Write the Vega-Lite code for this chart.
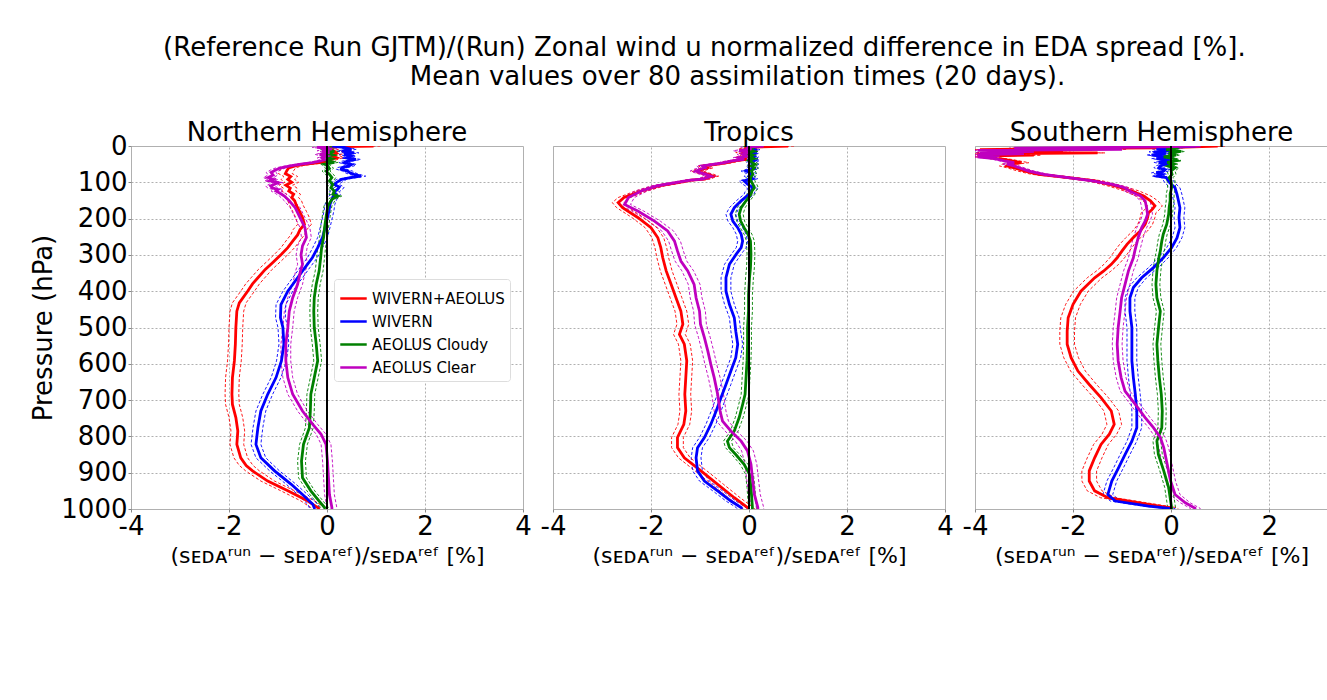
{
"$schema": "https://vega.github.io/schema/vega-lite/v6.json",
"padding": {"left": 30, "top": 34, "right": 0, "bottom": 0},
"background": "white",
"title": {"text": ["(Reference Run GJTM)/(Run) Zonal wind u normalized difference in EDA spread [%].", "\u200b\u00a0\u00a0\u00a0\u00a0\u00a0\u00a0\u00a0\u00a0Mean values over 80 assimilation times (20 days)."], "fontSize": 26, "font": "DejaVu Sans", "fontWeight": "normal", "lineHeight": 29, "anchor": "middle", "offset": 30, "dx": 25, "color": "black"},
"config": {
  "font": "DejaVu Sans",
  "view": {"stroke": "#b0b0b0", "strokeWidth": 1},
  "title": {"font": "DejaVu Sans", "fontSize": 26, "fontWeight": "normal", "offset": -1, "color": "black"},
  "axis": {"labelFont": "DejaVu Sans", "titleFont": "DejaVu Sans", "labelFontSize": 26, "titleFontSize": 26, "titleFontWeight": "normal", "labelColor": "black", "titleColor": "black", "domain": false, "tickColor": "#888888", "tickSize": 3, "labelPadding": 1, "labelFlush": false, "labelOverlap": false, "gridColor": "#b0b0b0", "gridDash": [2, 2], "gridWidth": 1}
},
"data": {"values": [
{"r":"NH","s":"WIVERN+AEOLUS","p":0,"v":0.95,"e":0.14},{"r":"NH","s":"WIVERN+AEOLUS","p":2,"v":0.1,"e":0.14},{"r":"NH","s":"WIVERN+AEOLUS","p":8,"v":0.05,"e":0.14},{"r":"NH","s":"WIVERN+AEOLUS","p":14,"v":0.15,"e":0.14},{"r":"NH","s":"WIVERN+AEOLUS","p":20,"v":0.2,"e":0.14},{"r":"NH","s":"WIVERN+AEOLUS","p":26,"v":0.1,"e":0.14},{"r":"NH","s":"WIVERN+AEOLUS","p":32,"v":0.2,"e":0.14},{"r":"NH","s":"WIVERN+AEOLUS","p":38,"v":0.05,"e":0.14},{"r":"NH","s":"WIVERN+AEOLUS","p":44,"v":0.0,"e":0.14},{"r":"NH","s":"WIVERN+AEOLUS","p":48,"v":-0.3,"e":0.14},{"r":"NH","s":"WIVERN+AEOLUS","p":53,"v":-0.6,"e":0.14},{"r":"NH","s":"WIVERN+AEOLUS","p":60,"v":-0.78,"e":0.14},{"r":"NH","s":"WIVERN+AEOLUS","p":68,"v":-0.82,"e":0.14},{"r":"NH","s":"WIVERN+AEOLUS","p":76,"v":-0.85,"e":0.14},{"r":"NH","s":"WIVERN+AEOLUS","p":84,"v":-0.74,"e":0.14},{"r":"NH","s":"WIVERN+AEOLUS","p":92,"v":-0.8,"e":0.14},{"r":"NH","s":"WIVERN+AEOLUS","p":100,"v":-0.72,"e":0.14},{"r":"NH","s":"WIVERN+AEOLUS","p":108,"v":-0.84,"e":0.14},{"r":"NH","s":"WIVERN+AEOLUS","p":116,"v":-0.75,"e":0.14},{"r":"NH","s":"WIVERN+AEOLUS","p":124,"v":-0.78,"e":0.14},{"r":"NH","s":"WIVERN+AEOLUS","p":133,"v":-0.68,"e":0.14},{"r":"NH","s":"WIVERN+AEOLUS","p":142,"v":-0.72,"e":0.14},{"r":"NH","s":"WIVERN+AEOLUS","p":151,"v":-0.66,"e":0.14},{"r":"NH","s":"WIVERN+AEOLUS","p":165,"v":-0.62,"e":0.14},{"r":"NH","s":"WIVERN+AEOLUS","p":180,"v":-0.56,"e":0.14},{"r":"NH","s":"WIVERN+AEOLUS","p":197,"v":-0.5,"e":0.14},{"r":"NH","s":"WIVERN+AEOLUS","p":216,"v":-0.46,"e":0.14},{"r":"NH","s":"WIVERN+AEOLUS","p":230,"v":-0.55,"e":0.14},{"r":"NH","s":"WIVERN+AEOLUS","p":245,"v":-0.6,"e":0.14},{"r":"NH","s":"WIVERN+AEOLUS","p":262,"v":-0.7,"e":0.14},{"r":"NH","s":"WIVERN+AEOLUS","p":280,"v":-0.8,"e":0.14},{"r":"NH","s":"WIVERN+AEOLUS","p":298,"v":-0.93,"e":0.14},{"r":"NH","s":"WIVERN+AEOLUS","p":320,"v":-1.1,"e":0.14},{"r":"NH","s":"WIVERN+AEOLUS","p":340,"v":-1.26,"e":0.14},{"r":"NH","s":"WIVERN+AEOLUS","p":363,"v":-1.41,"e":0.14},{"r":"NH","s":"WIVERN+AEOLUS","p":380,"v":-1.52,"e":0.14},{"r":"NH","s":"WIVERN+AEOLUS","p":400,"v":-1.62,"e":0.14},{"r":"NH","s":"WIVERN+AEOLUS","p":432,"v":-1.79,"e":0.14},{"r":"NH","s":"WIVERN+AEOLUS","p":455,"v":-1.84,"e":0.14},{"r":"NH","s":"WIVERN+AEOLUS","p":500,"v":-1.86,"e":0.14},{"r":"NH","s":"WIVERN+AEOLUS","p":546,"v":-1.87,"e":0.14},{"r":"NH","s":"WIVERN+AEOLUS","p":592,"v":-1.89,"e":0.14},{"r":"NH","s":"WIVERN+AEOLUS","p":638,"v":-1.93,"e":0.14},{"r":"NH","s":"WIVERN+AEOLUS","p":684,"v":-1.94,"e":0.14},{"r":"NH","s":"WIVERN+AEOLUS","p":712,"v":-1.93,"e":0.14},{"r":"NH","s":"WIVERN+AEOLUS","p":748,"v":-1.86,"e":0.14},{"r":"NH","s":"WIVERN+AEOLUS","p":785,"v":-1.82,"e":0.14},{"r":"NH","s":"WIVERN+AEOLUS","p":822,"v":-1.84,"e":0.14},{"r":"NH","s":"WIVERN+AEOLUS","p":859,"v":-1.76,"e":0.14},{"r":"NH","s":"WIVERN+AEOLUS","p":880,"v":-1.65,"e":0.14},{"r":"NH","s":"WIVERN+AEOLUS","p":895,"v":-1.52,"e":0.14},{"r":"NH","s":"WIVERN+AEOLUS","p":923,"v":-1.21,"e":0.14},{"r":"NH","s":"WIVERN+AEOLUS","p":950,"v":-0.8,"e":0.14},{"r":"NH","s":"WIVERN+AEOLUS","p":978,"v":-0.39,"e":0.14},{"r":"NH","s":"WIVERN+AEOLUS","p":996,"v":-0.19,"e":0.14},{"r":"NH","s":"WIVERN+AEOLUS","p":1000,"v":-0.15,"e":0.14},
{"r":"NH","s":"WIVERN","p":0,"v":0.1,"e":0.1},{"r":"NH","s":"WIVERN","p":4,"v":0.35,"e":0.1},{"r":"NH","s":"WIVERN","p":9,"v":0.5,"e":0.1},{"r":"NH","s":"WIVERN","p":14,"v":0.3,"e":0.1},{"r":"NH","s":"WIVERN","p":19,"v":0.55,"e":0.1},{"r":"NH","s":"WIVERN","p":23,"v":0.35,"e":0.1},{"r":"NH","s":"WIVERN","p":28,"v":0.49,"e":0.1},{"r":"NH","s":"WIVERN","p":33,"v":0.4,"e":0.1},{"r":"NH","s":"WIVERN","p":37,"v":0.59,"e":0.1},{"r":"NH","s":"WIVERN","p":42,"v":0.4,"e":0.1},{"r":"NH","s":"WIVERN","p":46,"v":0.35,"e":0.1},{"r":"NH","s":"WIVERN","p":51,"v":0.5,"e":0.1},{"r":"NH","s":"WIVERN","p":55,"v":0.45,"e":0.1},{"r":"NH","s":"WIVERN","p":60,"v":0.3,"e":0.1},{"r":"NH","s":"WIVERN","p":64,"v":0.29,"e":0.1},{"r":"NH","s":"WIVERN","p":69,"v":0.42,"e":0.1},{"r":"NH","s":"WIVERN","p":73,"v":0.46,"e":0.1},{"r":"NH","s":"WIVERN","p":78,"v":0.55,"e":0.1},{"r":"NH","s":"WIVERN","p":83,"v":0.69,"e":0.1},{"r":"NH","s":"WIVERN","p":88,"v":0.45,"e":0.1},{"r":"NH","s":"WIVERN","p":92,"v":0.3,"e":0.1},{"r":"NH","s":"WIVERN","p":100,"v":0.2,"e":0.1},{"r":"NH","s":"WIVERN","p":106,"v":0.15,"e":0.1},{"r":"NH","s":"WIVERN","p":113,"v":0.25,"e":0.1},{"r":"NH","s":"WIVERN","p":119,"v":0.22,"e":0.1},{"r":"NH","s":"WIVERN","p":126,"v":0.15,"e":0.1},{"r":"NH","s":"WIVERN","p":133,"v":0.18,"e":0.1},{"r":"NH","s":"WIVERN","p":140,"v":0.12,"e":0.1},{"r":"NH","s":"WIVERN","p":147,"v":0.1,"e":0.1},{"r":"NH","s":"WIVERN","p":161,"v":0.06,"e":0.1},{"r":"NH","s":"WIVERN","p":179,"v":0.04,"e":0.1},{"r":"NH","s":"WIVERN","p":197,"v":0.01,"e":0.1},{"r":"NH","s":"WIVERN","p":225,"v":-0.04,"e":0.1},{"r":"NH","s":"WIVERN","p":252,"v":-0.09,"e":0.1},{"r":"NH","s":"WIVERN","p":280,"v":-0.19,"e":0.1},{"r":"NH","s":"WIVERN","p":308,"v":-0.3,"e":0.1},{"r":"NH","s":"WIVERN","p":335,"v":-0.45,"e":0.1},{"r":"NH","s":"WIVERN","p":363,"v":-0.6,"e":0.1},{"r":"NH","s":"WIVERN","p":400,"v":-0.8,"e":0.1},{"r":"NH","s":"WIVERN","p":437,"v":-0.94,"e":0.1},{"r":"NH","s":"WIVERN","p":473,"v":-0.95,"e":0.1},{"r":"NH","s":"WIVERN","p":500,"v":-0.9,"e":0.1},{"r":"NH","s":"WIVERN","p":546,"v":-0.88,"e":0.1},{"r":"NH","s":"WIVERN","p":592,"v":-0.93,"e":0.1},{"r":"NH","s":"WIVERN","p":638,"v":-1.04,"e":0.1},{"r":"NH","s":"WIVERN","p":684,"v":-1.21,"e":0.1},{"r":"NH","s":"WIVERN","p":730,"v":-1.35,"e":0.1},{"r":"NH","s":"WIVERN","p":776,"v":-1.41,"e":0.1},{"r":"NH","s":"WIVERN","p":822,"v":-1.45,"e":0.1},{"r":"NH","s":"WIVERN","p":859,"v":-1.35,"e":0.1},{"r":"NH","s":"WIVERN","p":895,"v":-1.07,"e":0.1},{"r":"NH","s":"WIVERN","p":932,"v":-0.73,"e":0.1},{"r":"NH","s":"WIVERN","p":960,"v":-0.5,"e":0.1},{"r":"NH","s":"WIVERN","p":987,"v":-0.29,"e":0.1},{"r":"NH","s":"WIVERN","p":1000,"v":-0.25,"e":0.1},
{"r":"NH","s":"AEOLUS Cloudy","p":0,"v":-0.1,"e":0.08},{"r":"NH","s":"AEOLUS Cloudy","p":5,"v":0.1,"e":0.08},{"r":"NH","s":"AEOLUS Cloudy","p":10,"v":-0.05,"e":0.08},{"r":"NH","s":"AEOLUS Cloudy","p":15,"v":0.15,"e":0.08},{"r":"NH","s":"AEOLUS Cloudy","p":20,"v":0.0,"e":0.08},{"r":"NH","s":"AEOLUS Cloudy","p":25,"v":0.12,"e":0.08},{"r":"NH","s":"AEOLUS Cloudy","p":30,"v":-0.05,"e":0.08},{"r":"NH","s":"AEOLUS Cloudy","p":35,"v":0.1,"e":0.08},{"r":"NH","s":"AEOLUS Cloudy","p":40,"v":0.0,"e":0.08},{"r":"NH","s":"AEOLUS Cloudy","p":45,"v":0.15,"e":0.08},{"r":"NH","s":"AEOLUS Cloudy","p":50,"v":-0.05,"e":0.08},{"r":"NH","s":"AEOLUS Cloudy","p":55,"v":0.02,"e":0.08},{"r":"NH","s":"AEOLUS Cloudy","p":62,"v":0.05,"e":0.08},{"r":"NH","s":"AEOLUS Cloudy","p":69,"v":-0.02,"e":0.08},{"r":"NH","s":"AEOLUS Cloudy","p":78,"v":0.05,"e":0.08},{"r":"NH","s":"AEOLUS Cloudy","p":87,"v":0.1,"e":0.08},{"r":"NH","s":"AEOLUS Cloudy","p":96,"v":0.05,"e":0.08},{"r":"NH","s":"AEOLUS Cloudy","p":106,"v":0.12,"e":0.08},{"r":"NH","s":"AEOLUS Cloudy","p":115,"v":0.08,"e":0.08},{"r":"NH","s":"AEOLUS Cloudy","p":124,"v":0.15,"e":0.08},{"r":"NH","s":"AEOLUS Cloudy","p":133,"v":0.12,"e":0.08},{"r":"NH","s":"AEOLUS Cloudy","p":138,"v":0.22,"e":0.08},{"r":"NH","s":"AEOLUS Cloudy","p":145,"v":0.12,"e":0.08},{"r":"NH","s":"AEOLUS Cloudy","p":151,"v":0.08,"e":0.08},{"r":"NH","s":"AEOLUS Cloudy","p":165,"v":0.02,"e":0.08},{"r":"NH","s":"AEOLUS Cloudy","p":180,"v":0.0,"e":0.08},{"r":"NH","s":"AEOLUS Cloudy","p":197,"v":-0.02,"e":0.08},{"r":"NH","s":"AEOLUS Cloudy","p":225,"v":-0.05,"e":0.08},{"r":"NH","s":"AEOLUS Cloudy","p":252,"v":-0.07,"e":0.08},{"r":"NH","s":"AEOLUS Cloudy","p":280,"v":-0.11,"e":0.08},{"r":"NH","s":"AEOLUS Cloudy","p":308,"v":-0.13,"e":0.08},{"r":"NH","s":"AEOLUS Cloudy","p":344,"v":-0.16,"e":0.08},{"r":"NH","s":"AEOLUS Cloudy","p":381,"v":-0.22,"e":0.08},{"r":"NH","s":"AEOLUS Cloudy","p":418,"v":-0.26,"e":0.08},{"r":"NH","s":"AEOLUS Cloudy","p":455,"v":-0.27,"e":0.08},{"r":"NH","s":"AEOLUS Cloudy","p":500,"v":-0.26,"e":0.08},{"r":"NH","s":"AEOLUS Cloudy","p":546,"v":-0.22,"e":0.08},{"r":"NH","s":"AEOLUS Cloudy","p":592,"v":-0.19,"e":0.08},{"r":"NH","s":"AEOLUS Cloudy","p":638,"v":-0.26,"e":0.08},{"r":"NH","s":"AEOLUS Cloudy","p":684,"v":-0.33,"e":0.08},{"r":"NH","s":"AEOLUS Cloudy","p":730,"v":-0.34,"e":0.08},{"r":"NH","s":"AEOLUS Cloudy","p":776,"v":-0.36,"e":0.08},{"r":"NH","s":"AEOLUS Cloudy","p":822,"v":-0.48,"e":0.08},{"r":"NH","s":"AEOLUS Cloudy","p":868,"v":-0.52,"e":0.08},{"r":"NH","s":"AEOLUS Cloudy","p":914,"v":-0.5,"e":0.08},{"r":"NH","s":"AEOLUS Cloudy","p":950,"v":-0.33,"e":0.08},{"r":"NH","s":"AEOLUS Cloudy","p":978,"v":-0.16,"e":0.08},{"r":"NH","s":"AEOLUS Cloudy","p":996,"v":-0.05,"e":0.08},{"r":"NH","s":"AEOLUS Cloudy","p":1000,"v":-0.04,"e":0.08},
{"r":"NH","s":"AEOLUS Clear","p":0,"v":0.05,"e":0.1},{"r":"NH","s":"AEOLUS Clear","p":4,"v":-0.2,"e":0.1},{"r":"NH","s":"AEOLUS Clear","p":8,"v":0.1,"e":0.1},{"r":"NH","s":"AEOLUS Clear","p":13,"v":-0.1,"e":0.1},{"r":"NH","s":"AEOLUS Clear","p":18,"v":0.05,"e":0.1},{"r":"NH","s":"AEOLUS Clear","p":23,"v":-0.15,"e":0.1},{"r":"NH","s":"AEOLUS Clear","p":28,"v":0.0,"e":0.1},{"r":"NH","s":"AEOLUS Clear","p":33,"v":-0.1,"e":0.1},{"r":"NH","s":"AEOLUS Clear","p":38,"v":-0.05,"e":0.1},{"r":"NH","s":"AEOLUS Clear","p":42,"v":-0.15,"e":0.1},{"r":"NH","s":"AEOLUS Clear","p":46,"v":-0.3,"e":0.1},{"r":"NH","s":"AEOLUS Clear","p":50,"v":-0.53,"e":0.1},{"r":"NH","s":"AEOLUS Clear","p":55,"v":-0.75,"e":0.1},{"r":"NH","s":"AEOLUS Clear","p":60,"v":-0.94,"e":0.1},{"r":"NH","s":"AEOLUS Clear","p":66,"v":-1.05,"e":0.1},{"r":"NH","s":"AEOLUS Clear","p":73,"v":-1.14,"e":0.1},{"r":"NH","s":"AEOLUS Clear","p":80,"v":-1.1,"e":0.1},{"r":"NH","s":"AEOLUS Clear","p":87,"v":-1.2,"e":0.1},{"r":"NH","s":"AEOLUS Clear","p":92,"v":-1.1,"e":0.1},{"r":"NH","s":"AEOLUS Clear","p":96,"v":-1.17,"e":0.1},{"r":"NH","s":"AEOLUS Clear","p":101,"v":-1.0,"e":0.1},{"r":"NH","s":"AEOLUS Clear","p":105,"v":-1.07,"e":0.1},{"r":"NH","s":"AEOLUS Clear","p":110,"v":-1.15,"e":0.1},{"r":"NH","s":"AEOLUS Clear","p":115,"v":-1.12,"e":0.1},{"r":"NH","s":"AEOLUS Clear","p":120,"v":-1.0,"e":0.1},{"r":"NH","s":"AEOLUS Clear","p":124,"v":-1.04,"e":0.1},{"r":"NH","s":"AEOLUS Clear","p":131,"v":-0.95,"e":0.1},{"r":"NH","s":"AEOLUS Clear","p":138,"v":-0.87,"e":0.1},{"r":"NH","s":"AEOLUS Clear","p":151,"v":-0.77,"e":0.1},{"r":"NH","s":"AEOLUS Clear","p":170,"v":-0.65,"e":0.1},{"r":"NH","s":"AEOLUS Clear","p":197,"v":-0.55,"e":0.1},{"r":"NH","s":"AEOLUS Clear","p":225,"v":-0.45,"e":0.1},{"r":"NH","s":"AEOLUS Clear","p":252,"v":-0.42,"e":0.1},{"r":"NH","s":"AEOLUS Clear","p":275,"v":-0.5,"e":0.1},{"r":"NH","s":"AEOLUS Clear","p":300,"v":-0.53,"e":0.1},{"r":"NH","s":"AEOLUS Clear","p":326,"v":-0.5,"e":0.1},{"r":"NH","s":"AEOLUS Clear","p":344,"v":-0.54,"e":0.1},{"r":"NH","s":"AEOLUS Clear","p":381,"v":-0.6,"e":0.1},{"r":"NH","s":"AEOLUS Clear","p":418,"v":-0.7,"e":0.1},{"r":"NH","s":"AEOLUS Clear","p":455,"v":-0.77,"e":0.1},{"r":"NH","s":"AEOLUS Clear","p":500,"v":-0.8,"e":0.1},{"r":"NH","s":"AEOLUS Clear","p":546,"v":-0.84,"e":0.1},{"r":"NH","s":"AEOLUS Clear","p":592,"v":-0.84,"e":0.1},{"r":"NH","s":"AEOLUS Clear","p":638,"v":-0.8,"e":0.1},{"r":"NH","s":"AEOLUS Clear","p":684,"v":-0.7,"e":0.1},{"r":"NH","s":"AEOLUS Clear","p":730,"v":-0.5,"e":0.1},{"r":"NH","s":"AEOLUS Clear","p":767,"v":-0.29,"e":0.1},{"r":"NH","s":"AEOLUS Clear","p":794,"v":-0.12,"e":0.1},{"r":"NH","s":"AEOLUS Clear","p":822,"v":-0.02,"e":0.1},{"r":"NH","s":"AEOLUS Clear","p":868,"v":0.01,"e":0.1},{"r":"NH","s":"AEOLUS Clear","p":914,"v":0.03,"e":0.1},{"r":"NH","s":"AEOLUS Clear","p":960,"v":0.05,"e":0.1},{"r":"NH","s":"AEOLUS Clear","p":996,"v":0.1,"e":0.1},{"r":"NH","s":"AEOLUS Clear","p":1000,"v":0.1,"e":0.1},
{"r":"TR","s":"WIVERN+AEOLUS","p":0,"v":0.8,"e":0.12},{"r":"TR","s":"WIVERN+AEOLUS","p":3,"v":0.1,"e":0.12},{"r":"TR","s":"WIVERN+AEOLUS","p":8,"v":-0.1,"e":0.12},{"r":"TR","s":"WIVERN+AEOLUS","p":13,"v":0.05,"e":0.12},{"r":"TR","s":"WIVERN+AEOLUS","p":18,"v":-0.15,"e":0.12},{"r":"TR","s":"WIVERN+AEOLUS","p":23,"v":0.0,"e":0.12},{"r":"TR","s":"WIVERN+AEOLUS","p":28,"v":-0.1,"e":0.12},{"r":"TR","s":"WIVERN+AEOLUS","p":32,"v":-0.16,"e":0.12},{"r":"TR","s":"WIVERN+AEOLUS","p":37,"v":-0.05,"e":0.12},{"r":"TR","s":"WIVERN+AEOLUS","p":41,"v":-0.3,"e":0.12},{"r":"TR","s":"WIVERN+AEOLUS","p":46,"v":-0.45,"e":0.12},{"r":"TR","s":"WIVERN+AEOLUS","p":50,"v":-0.64,"e":0.12},{"r":"TR","s":"WIVERN+AEOLUS","p":55,"v":-0.91,"e":0.12},{"r":"TR","s":"WIVERN+AEOLUS","p":60,"v":-0.85,"e":0.12},{"r":"TR","s":"WIVERN+AEOLUS","p":64,"v":-0.95,"e":0.12},{"r":"TR","s":"WIVERN+AEOLUS","p":69,"v":-1.05,"e":0.12},{"r":"TR","s":"WIVERN+AEOLUS","p":74,"v":-0.95,"e":0.12},{"r":"TR","s":"WIVERN+AEOLUS","p":78,"v":-0.84,"e":0.12},{"r":"TR","s":"WIVERN+AEOLUS","p":83,"v":-0.74,"e":0.12},{"r":"TR","s":"WIVERN+AEOLUS","p":87,"v":-0.84,"e":0.12},{"r":"TR","s":"WIVERN+AEOLUS","p":91,"v":-0.9,"e":0.12},{"r":"TR","s":"WIVERN+AEOLUS","p":94,"v":-1.18,"e":0.12},{"r":"TR","s":"WIVERN+AEOLUS","p":101,"v":-1.45,"e":0.12},{"r":"TR","s":"WIVERN+AEOLUS","p":110,"v":-1.85,"e":0.12},{"r":"TR","s":"WIVERN+AEOLUS","p":124,"v":-2.2,"e":0.12},{"r":"TR","s":"WIVERN+AEOLUS","p":142,"v":-2.55,"e":0.12},{"r":"TR","s":"WIVERN+AEOLUS","p":156,"v":-2.67,"e":0.12},{"r":"TR","s":"WIVERN+AEOLUS","p":170,"v":-2.58,"e":0.12},{"r":"TR","s":"WIVERN+AEOLUS","p":197,"v":-2.27,"e":0.12},{"r":"TR","s":"WIVERN+AEOLUS","p":225,"v":-2.0,"e":0.12},{"r":"TR","s":"WIVERN+AEOLUS","p":253,"v":-1.86,"e":0.12},{"r":"TR","s":"WIVERN+AEOLUS","p":280,"v":-1.8,"e":0.12},{"r":"TR","s":"WIVERN+AEOLUS","p":308,"v":-1.76,"e":0.12},{"r":"TR","s":"WIVERN+AEOLUS","p":344,"v":-1.69,"e":0.12},{"r":"TR","s":"WIVERN+AEOLUS","p":381,"v":-1.59,"e":0.12},{"r":"TR","s":"WIVERN+AEOLUS","p":418,"v":-1.49,"e":0.12},{"r":"TR","s":"WIVERN+AEOLUS","p":455,"v":-1.39,"e":0.12},{"r":"TR","s":"WIVERN+AEOLUS","p":491,"v":-1.35,"e":0.12},{"r":"TR","s":"WIVERN+AEOLUS","p":519,"v":-1.42,"e":0.12},{"r":"TR","s":"WIVERN+AEOLUS","p":546,"v":-1.32,"e":0.12},{"r":"TR","s":"WIVERN+AEOLUS","p":592,"v":-1.27,"e":0.12},{"r":"TR","s":"WIVERN+AEOLUS","p":638,"v":-1.29,"e":0.12},{"r":"TR","s":"WIVERN+AEOLUS","p":684,"v":-1.31,"e":0.12},{"r":"TR","s":"WIVERN+AEOLUS","p":730,"v":-1.29,"e":0.12},{"r":"TR","s":"WIVERN+AEOLUS","p":767,"v":-1.33,"e":0.12},{"r":"TR","s":"WIVERN+AEOLUS","p":803,"v":-1.46,"e":0.12},{"r":"TR","s":"WIVERN+AEOLUS","p":831,"v":-1.46,"e":0.12},{"r":"TR","s":"WIVERN+AEOLUS","p":859,"v":-1.32,"e":0.12},{"r":"TR","s":"WIVERN+AEOLUS","p":895,"v":-0.98,"e":0.12},{"r":"TR","s":"WIVERN+AEOLUS","p":932,"v":-0.64,"e":0.12},{"r":"TR","s":"WIVERN+AEOLUS","p":969,"v":-0.3,"e":0.12},{"r":"TR","s":"WIVERN+AEOLUS","p":996,"v":-0.03,"e":0.12},{"r":"TR","s":"WIVERN+AEOLUS","p":1000,"v":0.0,"e":0.12},
{"r":"TR","s":"WIVERN","p":0,"v":0.2,"e":0.1},{"r":"TR","s":"WIVERN","p":5,"v":0.05,"e":0.1},{"r":"TR","s":"WIVERN","p":10,"v":0.12,"e":0.1},{"r":"TR","s":"WIVERN","p":15,"v":-0.02,"e":0.1},{"r":"TR","s":"WIVERN","p":20,"v":0.1,"e":0.1},{"r":"TR","s":"WIVERN","p":25,"v":0.0,"e":0.1},{"r":"TR","s":"WIVERN","p":30,"v":0.1,"e":0.1},{"r":"TR","s":"WIVERN","p":35,"v":0.03,"e":0.1},{"r":"TR","s":"WIVERN","p":40,"v":0.12,"e":0.1},{"r":"TR","s":"WIVERN","p":45,"v":0.05,"e":0.1},{"r":"TR","s":"WIVERN","p":50,"v":0.1,"e":0.1},{"r":"TR","s":"WIVERN","p":55,"v":0.04,"e":0.1},{"r":"TR","s":"WIVERN","p":62,"v":0.1,"e":0.1},{"r":"TR","s":"WIVERN","p":69,"v":-0.06,"e":0.1},{"r":"TR","s":"WIVERN","p":76,"v":0.05,"e":0.1},{"r":"TR","s":"WIVERN","p":83,"v":0.0,"e":0.1},{"r":"TR","s":"WIVERN","p":90,"v":0.08,"e":0.1},{"r":"TR","s":"WIVERN","p":96,"v":-0.1,"e":0.1},{"r":"TR","s":"WIVERN","p":105,"v":-0.03,"e":0.1},{"r":"TR","s":"WIVERN","p":112,"v":0.05,"e":0.1},{"r":"TR","s":"WIVERN","p":119,"v":0.07,"e":0.1},{"r":"TR","s":"WIVERN","p":126,"v":0.02,"e":0.1},{"r":"TR","s":"WIVERN","p":133,"v":0.0,"e":0.1},{"r":"TR","s":"WIVERN","p":151,"v":-0.16,"e":0.1},{"r":"TR","s":"WIVERN","p":170,"v":-0.3,"e":0.1},{"r":"TR","s":"WIVERN","p":188,"v":-0.37,"e":0.1},{"r":"TR","s":"WIVERN","p":207,"v":-0.33,"e":0.1},{"r":"TR","s":"WIVERN","p":225,"v":-0.23,"e":0.1},{"r":"TR","s":"WIVERN","p":243,"v":-0.16,"e":0.1},{"r":"TR","s":"WIVERN","p":262,"v":-0.13,"e":0.1},{"r":"TR","s":"WIVERN","p":280,"v":-0.16,"e":0.1},{"r":"TR","s":"WIVERN","p":298,"v":-0.26,"e":0.1},{"r":"TR","s":"WIVERN","p":326,"v":-0.4,"e":0.1},{"r":"TR","s":"WIVERN","p":363,"v":-0.47,"e":0.1},{"r":"TR","s":"WIVERN","p":400,"v":-0.47,"e":0.1},{"r":"TR","s":"WIVERN","p":436,"v":-0.4,"e":0.1},{"r":"TR","s":"WIVERN","p":473,"v":-0.3,"e":0.1},{"r":"TR","s":"WIVERN","p":510,"v":-0.27,"e":0.1},{"r":"TR","s":"WIVERN","p":546,"v":-0.23,"e":0.1},{"r":"TR","s":"WIVERN","p":583,"v":-0.27,"e":0.1},{"r":"TR","s":"WIVERN","p":620,"v":-0.37,"e":0.1},{"r":"TR","s":"WIVERN","p":657,"v":-0.47,"e":0.1},{"r":"TR","s":"WIVERN","p":693,"v":-0.57,"e":0.1},{"r":"TR","s":"WIVERN","p":730,"v":-0.67,"e":0.1},{"r":"TR","s":"WIVERN","p":767,"v":-0.78,"e":0.1},{"r":"TR","s":"WIVERN","p":803,"v":-0.91,"e":0.1},{"r":"TR","s":"WIVERN","p":831,"v":-1.05,"e":0.1},{"r":"TR","s":"WIVERN","p":859,"v":-1.08,"e":0.1},{"r":"TR","s":"WIVERN","p":895,"v":-1.05,"e":0.1},{"r":"TR","s":"WIVERN","p":923,"v":-0.91,"e":0.1},{"r":"TR","s":"WIVERN","p":950,"v":-0.64,"e":0.1},{"r":"TR","s":"WIVERN","p":978,"v":-0.37,"e":0.1},{"r":"TR","s":"WIVERN","p":996,"v":-0.16,"e":0.1},{"r":"TR","s":"WIVERN","p":1000,"v":-0.14,"e":0.1},
{"r":"TR","s":"AEOLUS Cloudy","p":0,"v":-0.05,"e":0.08},{"r":"TR","s":"AEOLUS Cloudy","p":5,"v":0.08,"e":0.08},{"r":"TR","s":"AEOLUS Cloudy","p":10,"v":0.0,"e":0.08},{"r":"TR","s":"AEOLUS Cloudy","p":15,"v":0.1,"e":0.08},{"r":"TR","s":"AEOLUS Cloudy","p":20,"v":-0.03,"e":0.08},{"r":"TR","s":"AEOLUS Cloudy","p":25,"v":0.08,"e":0.08},{"r":"TR","s":"AEOLUS Cloudy","p":30,"v":0.02,"e":0.08},{"r":"TR","s":"AEOLUS Cloudy","p":35,"v":0.1,"e":0.08},{"r":"TR","s":"AEOLUS Cloudy","p":40,"v":0.0,"e":0.08},{"r":"TR","s":"AEOLUS Cloudy","p":45,"v":0.06,"e":0.08},{"r":"TR","s":"AEOLUS Cloudy","p":50,"v":0.12,"e":0.08},{"r":"TR","s":"AEOLUS Cloudy","p":55,"v":0.05,"e":0.08},{"r":"TR","s":"AEOLUS Cloudy","p":60,"v":0.11,"e":0.08},{"r":"TR","s":"AEOLUS Cloudy","p":69,"v":0.05,"e":0.08},{"r":"TR","s":"AEOLUS Cloudy","p":78,"v":0.08,"e":0.08},{"r":"TR","s":"AEOLUS Cloudy","p":87,"v":0.03,"e":0.08},{"r":"TR","s":"AEOLUS Cloudy","p":96,"v":0.04,"e":0.08},{"r":"TR","s":"AEOLUS Cloudy","p":106,"v":0.08,"e":0.08},{"r":"TR","s":"AEOLUS Cloudy","p":115,"v":0.11,"e":0.08},{"r":"TR","s":"AEOLUS Cloudy","p":124,"v":0.06,"e":0.08},{"r":"TR","s":"AEOLUS Cloudy","p":133,"v":0.04,"e":0.08},{"r":"TR","s":"AEOLUS Cloudy","p":151,"v":-0.06,"e":0.08},{"r":"TR","s":"AEOLUS Cloudy","p":170,"v":-0.16,"e":0.08},{"r":"TR","s":"AEOLUS Cloudy","p":188,"v":-0.2,"e":0.08},{"r":"TR","s":"AEOLUS Cloudy","p":207,"v":-0.17,"e":0.08},{"r":"TR","s":"AEOLUS Cloudy","p":225,"v":-0.1,"e":0.08},{"r":"TR","s":"AEOLUS Cloudy","p":243,"v":-0.02,"e":0.08},{"r":"TR","s":"AEOLUS Cloudy","p":262,"v":0.03,"e":0.08},{"r":"TR","s":"AEOLUS Cloudy","p":298,"v":0.04,"e":0.08},{"r":"TR","s":"AEOLUS Cloudy","p":335,"v":0.03,"e":0.08},{"r":"TR","s":"AEOLUS Cloudy","p":363,"v":0.01,"e":0.08},{"r":"TR","s":"AEOLUS Cloudy","p":409,"v":-0.01,"e":0.08},{"r":"TR","s":"AEOLUS Cloudy","p":455,"v":-0.01,"e":0.08},{"r":"TR","s":"AEOLUS Cloudy","p":500,"v":-0.03,"e":0.08},{"r":"TR","s":"AEOLUS Cloudy","p":546,"v":-0.03,"e":0.08},{"r":"TR","s":"AEOLUS Cloudy","p":592,"v":-0.04,"e":0.08},{"r":"TR","s":"AEOLUS Cloudy","p":638,"v":-0.06,"e":0.08},{"r":"TR","s":"AEOLUS Cloudy","p":684,"v":-0.08,"e":0.08},{"r":"TR","s":"AEOLUS Cloudy","p":712,"v":-0.13,"e":0.08},{"r":"TR","s":"AEOLUS Cloudy","p":748,"v":-0.2,"e":0.08},{"r":"TR","s":"AEOLUS Cloudy","p":785,"v":-0.3,"e":0.08},{"r":"TR","s":"AEOLUS Cloudy","p":813,"v":-0.44,"e":0.08},{"r":"TR","s":"AEOLUS Cloudy","p":831,"v":-0.4,"e":0.08},{"r":"TR","s":"AEOLUS Cloudy","p":850,"v":-0.27,"e":0.08},{"r":"TR","s":"AEOLUS Cloudy","p":877,"v":-0.1,"e":0.08},{"r":"TR","s":"AEOLUS Cloudy","p":904,"v":0.01,"e":0.08},{"r":"TR","s":"AEOLUS Cloudy","p":941,"v":0.04,"e":0.08},{"r":"TR","s":"AEOLUS Cloudy","p":996,"v":0.07,"e":0.08},{"r":"TR","s":"AEOLUS Cloudy","p":1000,"v":0.07,"e":0.08},
{"r":"TR","s":"AEOLUS Clear","p":0,"v":0.3,"e":0.12},{"r":"TR","s":"AEOLUS Clear","p":3,"v":-0.05,"e":0.12},{"r":"TR","s":"AEOLUS Clear","p":8,"v":0.05,"e":0.12},{"r":"TR","s":"AEOLUS Clear","p":13,"v":-0.2,"e":0.12},{"r":"TR","s":"AEOLUS Clear","p":18,"v":0.0,"e":0.12},{"r":"TR","s":"AEOLUS Clear","p":23,"v":-0.12,"e":0.12},{"r":"TR","s":"AEOLUS Clear","p":28,"v":-0.05,"e":0.12},{"r":"TR","s":"AEOLUS Clear","p":32,"v":-0.2,"e":0.12},{"r":"TR","s":"AEOLUS Clear","p":37,"v":-0.1,"e":0.12},{"r":"TR","s":"AEOLUS Clear","p":41,"v":-0.35,"e":0.12},{"r":"TR","s":"AEOLUS Clear","p":46,"v":-0.5,"e":0.12},{"r":"TR","s":"AEOLUS Clear","p":50,"v":-0.7,"e":0.12},{"r":"TR","s":"AEOLUS Clear","p":55,"v":-0.95,"e":0.12},{"r":"TR","s":"AEOLUS Clear","p":60,"v":-0.9,"e":0.12},{"r":"TR","s":"AEOLUS Clear","p":64,"v":-1.0,"e":0.12},{"r":"TR","s":"AEOLUS Clear","p":69,"v":-1.08,"e":0.12},{"r":"TR","s":"AEOLUS Clear","p":74,"v":-0.98,"e":0.12},{"r":"TR","s":"AEOLUS Clear","p":78,"v":-0.88,"e":0.12},{"r":"TR","s":"AEOLUS Clear","p":83,"v":-0.78,"e":0.12},{"r":"TR","s":"AEOLUS Clear","p":87,"v":-0.86,"e":0.12},{"r":"TR","s":"AEOLUS Clear","p":91,"v":-0.95,"e":0.12},{"r":"TR","s":"AEOLUS Clear","p":94,"v":-1.2,"e":0.12},{"r":"TR","s":"AEOLUS Clear","p":101,"v":-1.5,"e":0.12},{"r":"TR","s":"AEOLUS Clear","p":110,"v":-1.88,"e":0.12},{"r":"TR","s":"AEOLUS Clear","p":124,"v":-2.2,"e":0.12},{"r":"TR","s":"AEOLUS Clear","p":142,"v":-2.46,"e":0.12},{"r":"TR","s":"AEOLUS Clear","p":161,"v":-2.54,"e":0.12},{"r":"TR","s":"AEOLUS Clear","p":179,"v":-2.27,"e":0.12},{"r":"TR","s":"AEOLUS Clear","p":207,"v":-1.93,"e":0.12},{"r":"TR","s":"AEOLUS Clear","p":234,"v":-1.66,"e":0.12},{"r":"TR","s":"AEOLUS Clear","p":262,"v":-1.52,"e":0.12},{"r":"TR","s":"AEOLUS Clear","p":289,"v":-1.46,"e":0.12},{"r":"TR","s":"AEOLUS Clear","p":317,"v":-1.39,"e":0.12},{"r":"TR","s":"AEOLUS Clear","p":344,"v":-1.25,"e":0.12},{"r":"TR","s":"AEOLUS Clear","p":381,"v":-1.12,"e":0.12},{"r":"TR","s":"AEOLUS Clear","p":418,"v":-1.08,"e":0.12},{"r":"TR","s":"AEOLUS Clear","p":455,"v":-1.01,"e":0.12},{"r":"TR","s":"AEOLUS Clear","p":491,"v":-0.99,"e":0.12},{"r":"TR","s":"AEOLUS Clear","p":528,"v":-0.91,"e":0.12},{"r":"TR","s":"AEOLUS Clear","p":565,"v":-0.84,"e":0.12},{"r":"TR","s":"AEOLUS Clear","p":601,"v":-0.78,"e":0.12},{"r":"TR","s":"AEOLUS Clear","p":638,"v":-0.71,"e":0.12},{"r":"TR","s":"AEOLUS Clear","p":684,"v":-0.64,"e":0.12},{"r":"TR","s":"AEOLUS Clear","p":730,"v":-0.59,"e":0.12},{"r":"TR","s":"AEOLUS Clear","p":758,"v":-0.54,"e":0.12},{"r":"TR","s":"AEOLUS Clear","p":785,"v":-0.37,"e":0.12},{"r":"TR","s":"AEOLUS Clear","p":813,"v":-0.16,"e":0.12},{"r":"TR","s":"AEOLUS Clear","p":840,"v":-0.03,"e":0.12},{"r":"TR","s":"AEOLUS Clear","p":877,"v":0.04,"e":0.12},{"r":"TR","s":"AEOLUS Clear","p":914,"v":0.07,"e":0.12},{"r":"TR","s":"AEOLUS Clear","p":960,"v":0.11,"e":0.12},{"r":"TR","s":"AEOLUS Clear","p":996,"v":0.18,"e":0.12},{"r":"TR","s":"AEOLUS Clear","p":1000,"v":0.18,"e":0.12},
{"r":"SH","s":"WIVERN+AEOLUS","p":0,"v":0.95,"e":0.15},{"r":"SH","s":"WIVERN+AEOLUS","p":3,"v":0.3,"e":0.15},{"r":"SH","s":"WIVERN+AEOLUS","p":5,"v":-0.3,"e":0.15},{"r":"SH","s":"WIVERN+AEOLUS","p":7,"v":-2.5,"e":0.15},{"r":"SH","s":"WIVERN+AEOLUS","p":10,"v":-3.9,"e":0.15},{"r":"SH","s":"WIVERN+AEOLUS","p":13,"v":-2.2,"e":0.15},{"r":"SH","s":"WIVERN+AEOLUS","p":16,"v":-3.6,"e":0.15},{"r":"SH","s":"WIVERN+AEOLUS","p":19,"v":-1.5,"e":0.15},{"r":"SH","s":"WIVERN+AEOLUS","p":22,"v":-3.95,"e":0.15},{"r":"SH","s":"WIVERN+AEOLUS","p":25,"v":-2.8,"e":0.15},{"r":"SH","s":"WIVERN+AEOLUS","p":28,"v":-3.95,"e":0.15},{"r":"SH","s":"WIVERN+AEOLUS","p":32,"v":-3.7,"e":0.15},{"r":"SH","s":"WIVERN+AEOLUS","p":37,"v":-3.4,"e":0.15},{"r":"SH","s":"WIVERN+AEOLUS","p":41,"v":-3.25,"e":0.15},{"r":"SH","s":"WIVERN+AEOLUS","p":46,"v":-3.05,"e":0.15},{"r":"SH","s":"WIVERN+AEOLUS","p":50,"v":-3.3,"e":0.15},{"r":"SH","s":"WIVERN+AEOLUS","p":55,"v":-3.35,"e":0.15},{"r":"SH","s":"WIVERN+AEOLUS","p":60,"v":-3.2,"e":0.15},{"r":"SH","s":"WIVERN+AEOLUS","p":69,"v":-2.98,"e":0.15},{"r":"SH","s":"WIVERN+AEOLUS","p":78,"v":-2.7,"e":0.15},{"r":"SH","s":"WIVERN+AEOLUS","p":87,"v":-2.1,"e":0.15},{"r":"SH","s":"WIVERN+AEOLUS","p":96,"v":-1.55,"e":0.15},{"r":"SH","s":"WIVERN+AEOLUS","p":110,"v":-1.14,"e":0.15},{"r":"SH","s":"WIVERN+AEOLUS","p":124,"v":-0.8,"e":0.15},{"r":"SH","s":"WIVERN+AEOLUS","p":138,"v":-0.56,"e":0.15},{"r":"SH","s":"WIVERN+AEOLUS","p":151,"v":-0.42,"e":0.15},{"r":"SH","s":"WIVERN+AEOLUS","p":165,"v":-0.33,"e":0.15},{"r":"SH","s":"WIVERN+AEOLUS","p":174,"v":-0.38,"e":0.15},{"r":"SH","s":"WIVERN+AEOLUS","p":184,"v":-0.46,"e":0.15},{"r":"SH","s":"WIVERN+AEOLUS","p":197,"v":-0.48,"e":0.15},{"r":"SH","s":"WIVERN+AEOLUS","p":216,"v":-0.53,"e":0.15},{"r":"SH","s":"WIVERN+AEOLUS","p":234,"v":-0.63,"e":0.15},{"r":"SH","s":"WIVERN+AEOLUS","p":252,"v":-0.77,"e":0.15},{"r":"SH","s":"WIVERN+AEOLUS","p":271,"v":-0.9,"e":0.15},{"r":"SH","s":"WIVERN+AEOLUS","p":289,"v":-1.0,"e":0.15},{"r":"SH","s":"WIVERN+AEOLUS","p":308,"v":-1.1,"e":0.15},{"r":"SH","s":"WIVERN+AEOLUS","p":326,"v":-1.22,"e":0.15},{"r":"SH","s":"WIVERN+AEOLUS","p":345,"v":-1.38,"e":0.15},{"r":"SH","s":"WIVERN+AEOLUS","p":363,"v":-1.56,"e":0.15},{"r":"SH","s":"WIVERN+AEOLUS","p":400,"v":-1.84,"e":0.15},{"r":"SH","s":"WIVERN+AEOLUS","p":436,"v":-2.0,"e":0.15},{"r":"SH","s":"WIVERN+AEOLUS","p":473,"v":-2.1,"e":0.15},{"r":"SH","s":"WIVERN+AEOLUS","p":510,"v":-2.12,"e":0.15},{"r":"SH","s":"WIVERN+AEOLUS","p":546,"v":-2.12,"e":0.15},{"r":"SH","s":"WIVERN+AEOLUS","p":583,"v":-2.04,"e":0.15},{"r":"SH","s":"WIVERN+AEOLUS","p":620,"v":-1.9,"e":0.15},{"r":"SH","s":"WIVERN+AEOLUS","p":657,"v":-1.67,"e":0.15},{"r":"SH","s":"WIVERN+AEOLUS","p":693,"v":-1.43,"e":0.15},{"r":"SH","s":"WIVERN+AEOLUS","p":730,"v":-1.22,"e":0.15},{"r":"SH","s":"WIVERN+AEOLUS","p":767,"v":-1.16,"e":0.15},{"r":"SH","s":"WIVERN+AEOLUS","p":794,"v":-1.26,"e":0.15},{"r":"SH","s":"WIVERN+AEOLUS","p":822,"v":-1.43,"e":0.15},{"r":"SH","s":"WIVERN+AEOLUS","p":859,"v":-1.56,"e":0.15},{"r":"SH","s":"WIVERN+AEOLUS","p":895,"v":-1.67,"e":0.15},{"r":"SH","s":"WIVERN+AEOLUS","p":923,"v":-1.67,"e":0.15},{"r":"SH","s":"WIVERN+AEOLUS","p":950,"v":-1.56,"e":0.15},{"r":"SH","s":"WIVERN+AEOLUS","p":969,"v":-1.29,"e":0.15},{"r":"SH","s":"WIVERN+AEOLUS","p":987,"v":-0.46,"e":0.15},{"r":"SH","s":"WIVERN+AEOLUS","p":996,"v":-0.05,"e":0.15},{"r":"SH","s":"WIVERN+AEOLUS","p":1000,"v":0.0,"e":0.15},
{"r":"SH","s":"WIVERN","p":0,"v":0.5,"e":0.1},{"r":"SH","s":"WIVERN","p":4,"v":0.0,"e":0.1},{"r":"SH","s":"WIVERN","p":8,"v":-0.3,"e":0.1},{"r":"SH","s":"WIVERN","p":12,"v":0.05,"e":0.1},{"r":"SH","s":"WIVERN","p":16,"v":-0.35,"e":0.1},{"r":"SH","s":"WIVERN","p":20,"v":-0.1,"e":0.1},{"r":"SH","s":"WIVERN","p":25,"v":-0.4,"e":0.1},{"r":"SH","s":"WIVERN","p":30,"v":-0.05,"e":0.1},{"r":"SH","s":"WIVERN","p":35,"v":-0.3,"e":0.1},{"r":"SH","s":"WIVERN","p":40,"v":0.0,"e":0.1},{"r":"SH","s":"WIVERN","p":45,"v":-0.25,"e":0.1},{"r":"SH","s":"WIVERN","p":50,"v":-0.1,"e":0.1},{"r":"SH","s":"WIVERN","p":55,"v":-0.22,"e":0.1},{"r":"SH","s":"WIVERN","p":60,"v":-0.25,"e":0.1},{"r":"SH","s":"WIVERN","p":65,"v":-0.12,"e":0.1},{"r":"SH","s":"WIVERN","p":69,"v":-0.15,"e":0.1},{"r":"SH","s":"WIVERN","p":74,"v":-0.3,"e":0.1},{"r":"SH","s":"WIVERN","p":78,"v":-0.19,"e":0.1},{"r":"SH","s":"WIVERN","p":83,"v":-0.28,"e":0.1},{"r":"SH","s":"WIVERN","p":87,"v":-0.1,"e":0.1},{"r":"SH","s":"WIVERN","p":96,"v":-0.05,"e":0.1},{"r":"SH","s":"WIVERN","p":101,"v":-0.03,"e":0.1},{"r":"SH","s":"WIVERN","p":115,"v":0.08,"e":0.1},{"r":"SH","s":"WIVERN","p":133,"v":0.12,"e":0.1},{"r":"SH","s":"WIVERN","p":151,"v":0.15,"e":0.1},{"r":"SH","s":"WIVERN","p":170,"v":0.18,"e":0.1},{"r":"SH","s":"WIVERN","p":197,"v":0.16,"e":0.1},{"r":"SH","s":"WIVERN","p":225,"v":0.18,"e":0.1},{"r":"SH","s":"WIVERN","p":253,"v":0.12,"e":0.1},{"r":"SH","s":"WIVERN","p":280,"v":0.01,"e":0.1},{"r":"SH","s":"WIVERN","p":308,"v":-0.16,"e":0.1},{"r":"SH","s":"WIVERN","p":335,"v":-0.36,"e":0.1},{"r":"SH","s":"WIVERN","p":363,"v":-0.6,"e":0.1},{"r":"SH","s":"WIVERN","p":390,"v":-0.77,"e":0.1},{"r":"SH","s":"WIVERN","p":418,"v":-0.84,"e":0.1},{"r":"SH","s":"WIVERN","p":455,"v":-0.84,"e":0.1},{"r":"SH","s":"WIVERN","p":500,"v":-0.8,"e":0.1},{"r":"SH","s":"WIVERN","p":546,"v":-0.8,"e":0.1},{"r":"SH","s":"WIVERN","p":592,"v":-0.8,"e":0.1},{"r":"SH","s":"WIVERN","p":638,"v":-0.77,"e":0.1},{"r":"SH","s":"WIVERN","p":684,"v":-0.73,"e":0.1},{"r":"SH","s":"WIVERN","p":730,"v":-0.7,"e":0.1},{"r":"SH","s":"WIVERN","p":776,"v":-0.7,"e":0.1},{"r":"SH","s":"WIVERN","p":813,"v":-0.8,"e":0.1},{"r":"SH","s":"WIVERN","p":850,"v":-0.94,"e":0.1},{"r":"SH","s":"WIVERN","p":886,"v":-1.07,"e":0.1},{"r":"SH","s":"WIVERN","p":923,"v":-1.21,"e":0.1},{"r":"SH","s":"WIVERN","p":960,"v":-1.29,"e":0.1},{"r":"SH","s":"WIVERN","p":978,"v":-1.14,"e":0.1},{"r":"SH","s":"WIVERN","p":992,"v":-0.46,"e":0.1},{"r":"SH","s":"WIVERN","p":998,"v":-0.05,"e":0.1},{"r":"SH","s":"WIVERN","p":1000,"v":0.0,"e":0.1},
{"r":"SH","s":"AEOLUS Cloudy","p":0,"v":-0.1,"e":0.08},{"r":"SH","s":"AEOLUS Cloudy","p":5,"v":0.15,"e":0.08},{"r":"SH","s":"AEOLUS Cloudy","p":10,"v":-0.1,"e":0.08},{"r":"SH","s":"AEOLUS Cloudy","p":15,"v":0.2,"e":0.08},{"r":"SH","s":"AEOLUS Cloudy","p":20,"v":-0.05,"e":0.08},{"r":"SH","s":"AEOLUS Cloudy","p":25,"v":0.1,"e":0.08},{"r":"SH","s":"AEOLUS Cloudy","p":30,"v":-0.15,"e":0.08},{"r":"SH","s":"AEOLUS Cloudy","p":35,"v":0.05,"e":0.08},{"r":"SH","s":"AEOLUS Cloudy","p":40,"v":0.12,"e":0.08},{"r":"SH","s":"AEOLUS Cloudy","p":45,"v":-0.08,"e":0.08},{"r":"SH","s":"AEOLUS Cloudy","p":50,"v":0.05,"e":0.08},{"r":"SH","s":"AEOLUS Cloudy","p":55,"v":-0.05,"e":0.08},{"r":"SH","s":"AEOLUS Cloudy","p":60,"v":0.08,"e":0.08},{"r":"SH","s":"AEOLUS Cloudy","p":69,"v":0.0,"e":0.08},{"r":"SH","s":"AEOLUS Cloudy","p":78,"v":0.02,"e":0.08},{"r":"SH","s":"AEOLUS Cloudy","p":87,"v":-0.04,"e":0.08},{"r":"SH","s":"AEOLUS Cloudy","p":96,"v":0.0,"e":0.08},{"r":"SH","s":"AEOLUS Cloudy","p":115,"v":0.01,"e":0.08},{"r":"SH","s":"AEOLUS Cloudy","p":133,"v":-0.02,"e":0.08},{"r":"SH","s":"AEOLUS Cloudy","p":151,"v":-0.02,"e":0.08},{"r":"SH","s":"AEOLUS Cloudy","p":170,"v":-0.04,"e":0.08},{"r":"SH","s":"AEOLUS Cloudy","p":188,"v":-0.05,"e":0.08},{"r":"SH","s":"AEOLUS Cloudy","p":216,"v":-0.09,"e":0.08},{"r":"SH","s":"AEOLUS Cloudy","p":243,"v":-0.16,"e":0.08},{"r":"SH","s":"AEOLUS Cloudy","p":262,"v":-0.19,"e":0.08},{"r":"SH","s":"AEOLUS Cloudy","p":289,"v":-0.22,"e":0.08},{"r":"SH","s":"AEOLUS Cloudy","p":308,"v":-0.25,"e":0.08},{"r":"SH","s":"AEOLUS Cloudy","p":344,"v":-0.29,"e":0.08},{"r":"SH","s":"AEOLUS Cloudy","p":381,"v":-0.31,"e":0.08},{"r":"SH","s":"AEOLUS Cloudy","p":418,"v":-0.29,"e":0.08},{"r":"SH","s":"AEOLUS Cloudy","p":455,"v":-0.22,"e":0.08},{"r":"SH","s":"AEOLUS Cloudy","p":491,"v":-0.25,"e":0.08},{"r":"SH","s":"AEOLUS Cloudy","p":546,"v":-0.29,"e":0.08},{"r":"SH","s":"AEOLUS Cloudy","p":592,"v":-0.27,"e":0.08},{"r":"SH","s":"AEOLUS Cloudy","p":638,"v":-0.24,"e":0.08},{"r":"SH","s":"AEOLUS Cloudy","p":684,"v":-0.2,"e":0.08},{"r":"SH","s":"AEOLUS Cloudy","p":730,"v":-0.18,"e":0.08},{"r":"SH","s":"AEOLUS Cloudy","p":776,"v":-0.19,"e":0.08},{"r":"SH","s":"AEOLUS Cloudy","p":813,"v":-0.29,"e":0.08},{"r":"SH","s":"AEOLUS Cloudy","p":850,"v":-0.26,"e":0.08},{"r":"SH","s":"AEOLUS Cloudy","p":895,"v":-0.15,"e":0.08},{"r":"SH","s":"AEOLUS Cloudy","p":941,"v":-0.05,"e":0.08},{"r":"SH","s":"AEOLUS Cloudy","p":996,"v":0.01,"e":0.08},{"r":"SH","s":"AEOLUS Cloudy","p":1000,"v":0.01,"e":0.08},
{"r":"SH","s":"AEOLUS Clear","p":0,"v":0.6,"e":0.1},{"r":"SH","s":"AEOLUS Clear","p":3,"v":-0.5,"e":0.1},{"r":"SH","s":"AEOLUS Clear","p":6,"v":-3.2,"e":0.1},{"r":"SH","s":"AEOLUS Clear","p":9,"v":-1.0,"e":0.1},{"r":"SH","s":"AEOLUS Clear","p":12,"v":-3.95,"e":0.1},{"r":"SH","s":"AEOLUS Clear","p":15,"v":-2.8,"e":0.1},{"r":"SH","s":"AEOLUS Clear","p":18,"v":-3.9,"e":0.1},{"r":"SH","s":"AEOLUS Clear","p":21,"v":-3.0,"e":0.1},{"r":"SH","s":"AEOLUS Clear","p":24,"v":-3.95,"e":0.1},{"r":"SH","s":"AEOLUS Clear","p":27,"v":-3.5,"e":0.1},{"r":"SH","s":"AEOLUS Clear","p":30,"v":-3.95,"e":0.1},{"r":"SH","s":"AEOLUS Clear","p":35,"v":-3.6,"e":0.1},{"r":"SH","s":"AEOLUS Clear","p":41,"v":-3.4,"e":0.1},{"r":"SH","s":"AEOLUS Clear","p":46,"v":-3.2,"e":0.1},{"r":"SH","s":"AEOLUS Clear","p":50,"v":-3.35,"e":0.1},{"r":"SH","s":"AEOLUS Clear","p":55,"v":-3.2,"e":0.1},{"r":"SH","s":"AEOLUS Clear","p":60,"v":-3.1,"e":0.1},{"r":"SH","s":"AEOLUS Clear","p":69,"v":-2.9,"e":0.1},{"r":"SH","s":"AEOLUS Clear","p":78,"v":-2.6,"e":0.1},{"r":"SH","s":"AEOLUS Clear","p":87,"v":-2.1,"e":0.1},{"r":"SH","s":"AEOLUS Clear","p":96,"v":-1.6,"e":0.1},{"r":"SH","s":"AEOLUS Clear","p":106,"v":-1.2,"e":0.1},{"r":"SH","s":"AEOLUS Clear","p":115,"v":-0.95,"e":0.1},{"r":"SH","s":"AEOLUS Clear","p":124,"v":-0.85,"e":0.1},{"r":"SH","s":"AEOLUS Clear","p":138,"v":-0.62,"e":0.1},{"r":"SH","s":"AEOLUS Clear","p":151,"v":-0.53,"e":0.1},{"r":"SH","s":"AEOLUS Clear","p":170,"v":-0.5,"e":0.1},{"r":"SH","s":"AEOLUS Clear","p":188,"v":-0.48,"e":0.1},{"r":"SH","s":"AEOLUS Clear","p":207,"v":-0.53,"e":0.1},{"r":"SH","s":"AEOLUS Clear","p":225,"v":-0.6,"e":0.1},{"r":"SH","s":"AEOLUS Clear","p":252,"v":-0.67,"e":0.1},{"r":"SH","s":"AEOLUS Clear","p":289,"v":-0.74,"e":0.1},{"r":"SH","s":"AEOLUS Clear","p":308,"v":-0.77,"e":0.1},{"r":"SH","s":"AEOLUS Clear","p":344,"v":-0.87,"e":0.1},{"r":"SH","s":"AEOLUS Clear","p":381,"v":-0.94,"e":0.1},{"r":"SH","s":"AEOLUS Clear","p":418,"v":-1.01,"e":0.1},{"r":"SH","s":"AEOLUS Clear","p":455,"v":-1.04,"e":0.1},{"r":"SH","s":"AEOLUS Clear","p":500,"v":-1.08,"e":0.1},{"r":"SH","s":"AEOLUS Clear","p":546,"v":-1.1,"e":0.1},{"r":"SH","s":"AEOLUS Clear","p":592,"v":-1.08,"e":0.1},{"r":"SH","s":"AEOLUS Clear","p":638,"v":-1.02,"e":0.1},{"r":"SH","s":"AEOLUS Clear","p":675,"v":-0.94,"e":0.1},{"r":"SH","s":"AEOLUS Clear","p":712,"v":-0.73,"e":0.1},{"r":"SH","s":"AEOLUS Clear","p":748,"v":-0.53,"e":0.1},{"r":"SH","s":"AEOLUS Clear","p":776,"v":-0.36,"e":0.1},{"r":"SH","s":"AEOLUS Clear","p":803,"v":-0.22,"e":0.1},{"r":"SH","s":"AEOLUS Clear","p":831,"v":-0.15,"e":0.1},{"r":"SH","s":"AEOLUS Clear","p":877,"v":-0.08,"e":0.1},{"r":"SH","s":"AEOLUS Clear","p":923,"v":-0.01,"e":0.1},{"r":"SH","s":"AEOLUS Clear","p":960,"v":0.08,"e":0.1},{"r":"SH","s":"AEOLUS Clear","p":983,"v":0.29,"e":0.1},{"r":"SH","s":"AEOLUS Clear","p":998,"v":0.49,"e":0.1},{"r":"SH","s":"AEOLUS Clear","p":1000,"v":0.5,"e":0.1}
]},
"spacing": 30,
"bounds": "flush",
"resolve": {"legend": {"color": "independent"}},
"hconcat": [
{
 "width": 392, "height": 363,
 "title": {"text": "Northern Hemisphere", "offset": -13},
 "transform": [{"filter": "datum.r === 'NH'"}],
 "layer": [
  {"mark": {"type": "errorband", "band": {"opacity": 0}, "borders": {"orient": "horizontal", "strokeDash": [3, 2], "strokeWidth": 0.9}, "clip": true},
   "encoding": {
    "y": {"field": "p", "type": "quantitative", "scale": {"domain": [0, 1000], "reverse": true, "nice": false, "zero": false}, "axis": {"values": [0,100,200,300,400,500,600,700,800,900,1000], "format": "d", "title": "Pressure (hPa)", "titlePadding": 4, "grid": true}},
    "x": {"field": "v", "type": "quantitative", "scale": {"domain": [-4, 4], "nice": false, "zero": false}, "axis": {"values": [-4,-2,0,2,4], "labelExpr": "datum.value < 0 ? '-' + abs(datum.value) : '' + datum.value", "title": "(sᴇᴅᴀʳᵘⁿ − sᴇᴅᴀʳᵉᶠ)/sᴇᴅᴀʳᵉᶠ [%]", "titleFontSize": 22, "titlePadding": 6, "grid": true}},
    "xError": {"field": "e"},
    "color": {"field": "s", "type": "nominal", "scale": {"domain": ["WIVERN+AEOLUS", "WIVERN", "AEOLUS Cloudy", "AEOLUS Clear"], "range": ["#ff0000", "#0000ff", "#008000", "#bf00bf"]}, "legend": {"orient": "none", "legendX": 203, "legendY": 133, "title": null, "symbolType": "stroke", "symbolStrokeWidth": 2.5, "symbolSize": 700, "symbolDash": [1, 0], "labelFontSize": 15, "labelFont": "DejaVu Sans", "labelColor": "black", "fillColor": "white", "strokeColor": "#dddddd", "padding": 5, "rowPadding": 0, "cornerRadius": 3}}
   }},
  {"mark": {"type": "line", "strokeWidth": 2.8, "clip": true},
   "encoding": {
    "y": {"field": "p", "type": "quantitative", "axis": {"values": [0,100,200,300,400,500,600,700,800,900,1000], "format": "d", "title": "Pressure (hPa)", "titlePadding": 4, "grid": true}},
    "x": {"field": "v", "type": "quantitative", "axis": {"values": [-4,-2,0,2,4], "labelExpr": "datum.value < 0 ? '-' + abs(datum.value) : '' + datum.value", "title": "(sᴇᴅᴀʳᵘⁿ − sᴇᴅᴀʳᵉᶠ)/sᴇᴅᴀʳᵉᶠ [%]", "titleFontSize": 22, "titlePadding": 6, "grid": true}},
    "order": {"field": "p", "type": "quantitative"},
    "color": {"field": "s", "type": "nominal", "legend": {"orient": "none", "legendX": 203, "legendY": 133, "title": null, "symbolType": "stroke", "symbolStrokeWidth": 2.5, "symbolSize": 700, "symbolDash": [1, 0], "labelFontSize": 15, "labelFont": "DejaVu Sans", "labelColor": "black", "fillColor": "white", "strokeColor": "#dddddd", "padding": 5, "rowPadding": 0, "cornerRadius": 3}}
   }},
  {"mark": {"type": "rule", "color": "black", "strokeWidth": 1.3}, "encoding": {"x": {"datum": 0}}}
 ]
},
{
 "width": 392, "height": 363,
 "title": "Tropics",
 "transform": [{"filter": "datum.r === 'TR'"}],
 "layer": [
  {"mark": {"type": "errorband", "band": {"opacity": 0}, "borders": {"orient": "horizontal", "strokeDash": [3, 2], "strokeWidth": 0.9}, "clip": true},
   "encoding": {
    "y": {"field": "p", "type": "quantitative", "scale": {"domain": [0, 1000], "reverse": true, "nice": false, "zero": false}, "axis": {"values": [0,100,200,300,400,500,600,700,800,900,1000], "title": null, "labels": false, "ticks": false, "grid": true}},
    "x": {"field": "v", "type": "quantitative", "scale": {"domain": [-4, 4], "nice": false, "zero": false}, "axis": {"values": [-4,-2,0,2,4], "labelExpr": "datum.value < 0 ? '-' + abs(datum.value) : '' + datum.value", "title": "(sᴇᴅᴀʳᵘⁿ − sᴇᴅᴀʳᵉᶠ)/sᴇᴅᴀʳᵉᶠ [%]", "titleFontSize": 22, "titlePadding": 6, "grid": true}},
    "xError": {"field": "e"},
    "color": {"field": "s", "type": "nominal", "scale": {"domain": ["WIVERN+AEOLUS", "WIVERN", "AEOLUS Cloudy", "AEOLUS Clear"], "range": ["#ff0000", "#0000ff", "#008000", "#bf00bf"]}, "legend": null}
   }},
  {"mark": {"type": "line", "strokeWidth": 2.8, "clip": true},
   "encoding": {
    "y": {"field": "p", "type": "quantitative", "axis": {"values": [0,100,200,300,400,500,600,700,800,900,1000], "title": null, "labels": false, "ticks": false, "grid": true}},
    "x": {"field": "v", "type": "quantitative", "axis": {"values": [-4,-2,0,2,4], "labelExpr": "datum.value < 0 ? '-' + abs(datum.value) : '' + datum.value", "title": "(sᴇᴅᴀʳᵘⁿ − sᴇᴅᴀʳᵉᶠ)/sᴇᴅᴀʳᵉᶠ [%]", "titleFontSize": 22, "titlePadding": 6, "grid": true}},
    "order": {"field": "p", "type": "quantitative"},
    "color": {"field": "s", "type": "nominal", "legend": null}
   }},
  {"mark": {"type": "rule", "color": "black", "strokeWidth": 1.3}, "encoding": {"x": {"datum": 0}}}
 ]
},
{
 "width": 353, "height": 363,
 "title": "Southern Hemisphere",
 "transform": [{"filter": "datum.r === 'SH'"}],
 "layer": [
  {"mark": {"type": "errorband", "band": {"opacity": 0}, "borders": {"orient": "horizontal", "strokeDash": [3, 2], "strokeWidth": 0.9}, "clip": true},
   "encoding": {
    "y": {"field": "p", "type": "quantitative", "scale": {"domain": [0, 1000], "reverse": true, "nice": false, "zero": false}, "axis": {"values": [0,100,200,300,400,500,600,700,800,900,1000], "title": null, "labels": false, "ticks": false, "grid": true}},
    "x": {"field": "v", "type": "quantitative", "scale": {"domain": [-4, 3.2], "nice": false, "zero": false}, "axis": {"values": [-4,-2,0,2], "labelExpr": "datum.value < 0 ? '-' + abs(datum.value) : '' + datum.value", "title": "(sᴇᴅᴀʳᵘⁿ − sᴇᴅᴀʳᵉᶠ)/sᴇᴅᴀʳᵉᶠ [%]", "titleFontSize": 22, "titlePadding": 6, "grid": true}},
    "xError": {"field": "e"},
    "color": {"field": "s", "type": "nominal", "scale": {"domain": ["WIVERN+AEOLUS", "WIVERN", "AEOLUS Cloudy", "AEOLUS Clear"], "range": ["#ff0000", "#0000ff", "#008000", "#bf00bf"]}, "legend": null}
   }},
  {"mark": {"type": "line", "strokeWidth": 2.8, "clip": true},
   "encoding": {
    "y": {"field": "p", "type": "quantitative", "axis": {"values": [0,100,200,300,400,500,600,700,800,900,1000], "title": null, "labels": false, "ticks": false, "grid": true}},
    "x": {"field": "v", "type": "quantitative", "axis": {"values": [-4,-2,0,2], "labelExpr": "datum.value < 0 ? '-' + abs(datum.value) : '' + datum.value", "title": "(sᴇᴅᴀʳᵘⁿ − sᴇᴅᴀʳᵉᶠ)/sᴇᴅᴀʳᵉᶠ [%]", "titleFontSize": 22, "titlePadding": 6, "grid": true}},
    "order": {"field": "p", "type": "quantitative"},
    "color": {"field": "s", "type": "nominal", "legend": null}
   }},
  {"mark": {"type": "rule", "color": "black", "strokeWidth": 1.3}, "encoding": {"x": {"datum": 0}}}
 ]
}
]
}
